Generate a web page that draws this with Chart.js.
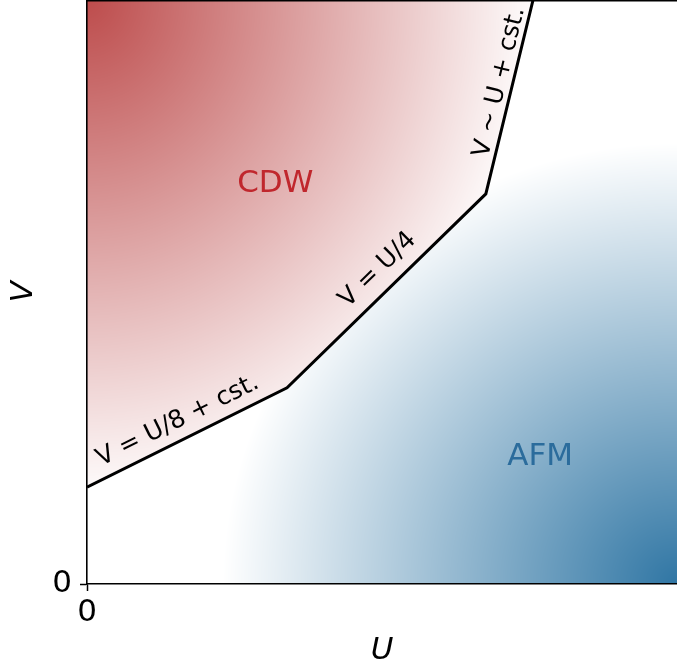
<!DOCTYPE html>
<html>
<head>
<meta charset="utf-8">
<script src="https://cdn.jsdelivr.net/npm/chart.js@4.4.1/dist/chart.umd.min.js"></script>
<style>
  html, body { margin: 0; padding: 0; background: #ffffff; }
  #wrap { width: 677px; height: 670px; }
  canvas { display: block; }
</style>
</head>
<body>
<div id="wrap"><canvas id="c" width="677" height="670" style="width:677px;height:670px"></canvas></div>
<script>
// ---- data ----
const boundaryU = [0, 0.339, 0.676, 0.756];   // U of the phase-boundary corners
const boundaryV = [0.166, 0.336, 0.668, 1.0]; // V of the phase-boundary corners
const xTickValues = [0];
const yTickValues = [0];
const xTickLabels = ['0'];
const yTickLabels = ['0'];
const axisTitles = { x: 'U', y: 'V' };
const phaseNames = ['CDW', 'AFM'];
const segmentLabels = ['V = U/8 + cst.', 'V = U/4', 'V ~ U + cst.'];

// ---- styling / placement (not data) ----
const phaseLabelAt = [{ u: 0.319, v: 0.685, color: '#c0272d' }, { u: 0.768, v: 0.2175, color: '#2b6c9c' }];
const segLabelPlace = [{ frac: 0.496, off: 19 }, { frac: 0.53, off: 21 }, { frac: 0.56, off: 13 }];
const redRGB = [189, 76, 76], blueRGB = [48, 118, 164];
const redExt = { a: 0.77, b: 0.86 }, blueExt = { a: 0.77, b: 0.755 };
const FONT = '"DejaVu Sans", "Liberation Sans", sans-serif';

function boundaryAt(u) {
  const n = boundaryU.length;
  if (u <= boundaryU[0]) return boundaryV[0];
  for (let i = 0; i < n - 1; i++) {
    if (u <= boundaryU[i + 1]) {
      const t = (u - boundaryU[i]) / (boundaryU[i + 1] - boundaryU[i]);
      return boundaryV[i] + t * (boundaryV[i + 1] - boundaryV[i]);
    }
  }
  const i = n - 2;
  const s = (boundaryV[i + 1] - boundaryV[i]) / (boundaryU[i + 1] - boundaryU[i]);
  return boundaryV[n - 1] + s * (u - boundaryU[n - 1]);
}

const bgPlugin = {
  id: 'phaseBg',
  beforeDraw(chart) {
    const { left, top, right, bottom } = chart.chartArea;
    const xs = chart.scales.x, ys = chart.scales.y;
    const w = Math.round(right - left), h = Math.round(bottom - top);
    const off = document.createElement('canvas');
    off.width = w; off.height = h;
    const octx = off.getContext('2d');
    const img = octx.createImageData(w, h);
    const d = img.data;
    const uMin = xs.min, uMax = xs.max, vMin = ys.min, vMax = ys.max;
    for (let py = 0; py < h; py++) {
      const v = ys.getValueForPixel(top + py + 0.5);
      for (let px = 0; px < w; px++) {
        const u = xs.getValueForPixel(left + px + 0.5);
        let t, col;
        if (v > boundaryAt(u)) {
          const du = (u - uMin) / redExt.a, dv = (vMax - v) / redExt.b;
          t = 1 - Math.sqrt(du * du + dv * dv);
          col = redRGB;
        } else {
          const du = (uMax - u) / blueExt.a, dv = (v - vMin) / blueExt.b;
          t = 1 - Math.sqrt(du * du + dv * dv);
          col = blueRGB;
        }
        t = Math.max(0, Math.min(1, t));
        const k = (py * w + px) * 4;
        d[k] = 255 + (col[0] - 255) * t;
        d[k + 1] = 255 + (col[1] - 255) * t;
        d[k + 2] = 255 + (col[2] - 255) * t;
        d[k + 3] = 255;
      }
    }
    octx.putImageData(img, 0, 0);
    chart.ctx.drawImage(off, left, top);
  },
  afterDatasetsDraw(chart) {
    const ctx = chart.ctx;
    const xs = chart.scales.x, ys = chart.scales.y;
    ctx.save();
    ctx.font = '31px ' + FONT;
    ctx.textAlign = 'center';
    ctx.textBaseline = 'middle';
    phaseNames.forEach((name, i) => {
      const p = phaseLabelAt[i];
      ctx.fillStyle = p.color;
      ctx.fillText(name, xs.getPixelForValue(p.u), ys.getPixelForValue(p.v));
    });
    ctx.font = '25px ' + FONT;
    ctx.fillStyle = '#000';
    segmentLabels.forEach((txt, i) => {
      const x0 = xs.getPixelForValue(boundaryU[i]), y0 = ys.getPixelForValue(boundaryV[i]);
      const x1 = xs.getPixelForValue(boundaryU[i + 1]), y1 = ys.getPixelForValue(boundaryV[i + 1]);
      const L = Math.hypot(x1 - x0, y1 - y0);
      const dx = (x1 - x0) / L, dy = (y1 - y0) / L;
      const nx = dy, ny = -dx;
      const pl = segLabelPlace[i];
      const cx = x0 + dx * L * pl.frac + nx * pl.off;
      const cy = y0 + dy * L * pl.frac + ny * pl.off;
      ctx.save();
      ctx.translate(cx, cy);
      ctx.rotate(Math.atan2(dy, dx));
      ctx.fillText(txt, 0, 0);
      ctx.restore();
    });
    ctx.restore();
  },
  afterDraw(chart) {
    const ctx = chart.ctx;
    const { left, top, right } = chart.chartArea;
    ctx.save();
    ctx.strokeStyle = '#000';
    ctx.lineWidth = 1.6;
    ctx.beginPath();
    ctx.moveTo(left - 0.8, top + 0.8);
    ctx.lineTo(right, top + 0.8);
    ctx.stroke();
    ctx.restore();
  }
};

const ctx = document.getElementById('c').getContext('2d');
new Chart(ctx, {
  type: 'scatter',
  data: {
    datasets: [{
      data: boundaryU.map((u, i) => ({ x: u, y: boundaryV[i] })),
      showLine: true,
      borderColor: '#000',
      borderWidth: 3,
      pointRadius: 0,
      fill: false,
      tension: 0
    }]
  },
  options: {
    responsive: false,
    animation: false,
    devicePixelRatio: 1,
    layout: { padding: 0 },
    plugins: { legend: { display: false }, tooltip: { enabled: false }, title: { display: false } },
    scales: {
      x: {
        type: 'linear', position: 'bottom', min: 0, max: 1,
        afterFit(s) { s.height = 86; s.paddingLeft = 0; s.paddingRight = 0; },
        afterBuildTicks(s) { s.ticks = xTickValues.map(v => ({ value: v })); },
        ticks: {
          color: '#000', padding: 3, maxRotation: 0, autoSkip: false,
          font: { family: FONT, size: 31 },
          callback: (v) => { const i = xTickValues.indexOf(v); return i >= 0 ? xTickLabels[i] : ''; }
        },
        grid: { drawOnChartArea: false, drawTicks: true, tickLength: 7, tickColor: '#000', tickWidth: 1.5 },
        border: { display: true, color: '#000', width: 1.6 },
        title: { display: true, text: axisTitles.x, color: '#000', padding: 0, font: { family: FONT, size: 31, style: 'italic' } }
      },
      y: {
        type: 'linear', position: 'left', min: 0, max: 1,
        afterFit(s) { s.width = 87; s.paddingTop = 0; s.paddingBottom = 0; },
        afterBuildTicks(s) { s.ticks = yTickValues.map(v => ({ value: v })); },
        ticks: {
          color: '#000', padding: 8, autoSkip: false,
          font: { family: FONT, size: 31 },
          callback: (v) => { const i = yTickValues.indexOf(v); return i >= 0 ? yTickLabels[i] : ''; }
        },
        grid: { drawOnChartArea: false, drawTicks: true, tickLength: 7, tickColor: '#000', tickWidth: 1.5 },
        border: { display: true, color: '#000', width: 1.6 },
        title: { display: true, text: axisTitles.y, color: '#000', padding: 5, font: { family: FONT, size: 31, style: 'italic' } }
      }
    }
  },
  plugins: [bgPlugin]
});
</script>
</body>
</html>
